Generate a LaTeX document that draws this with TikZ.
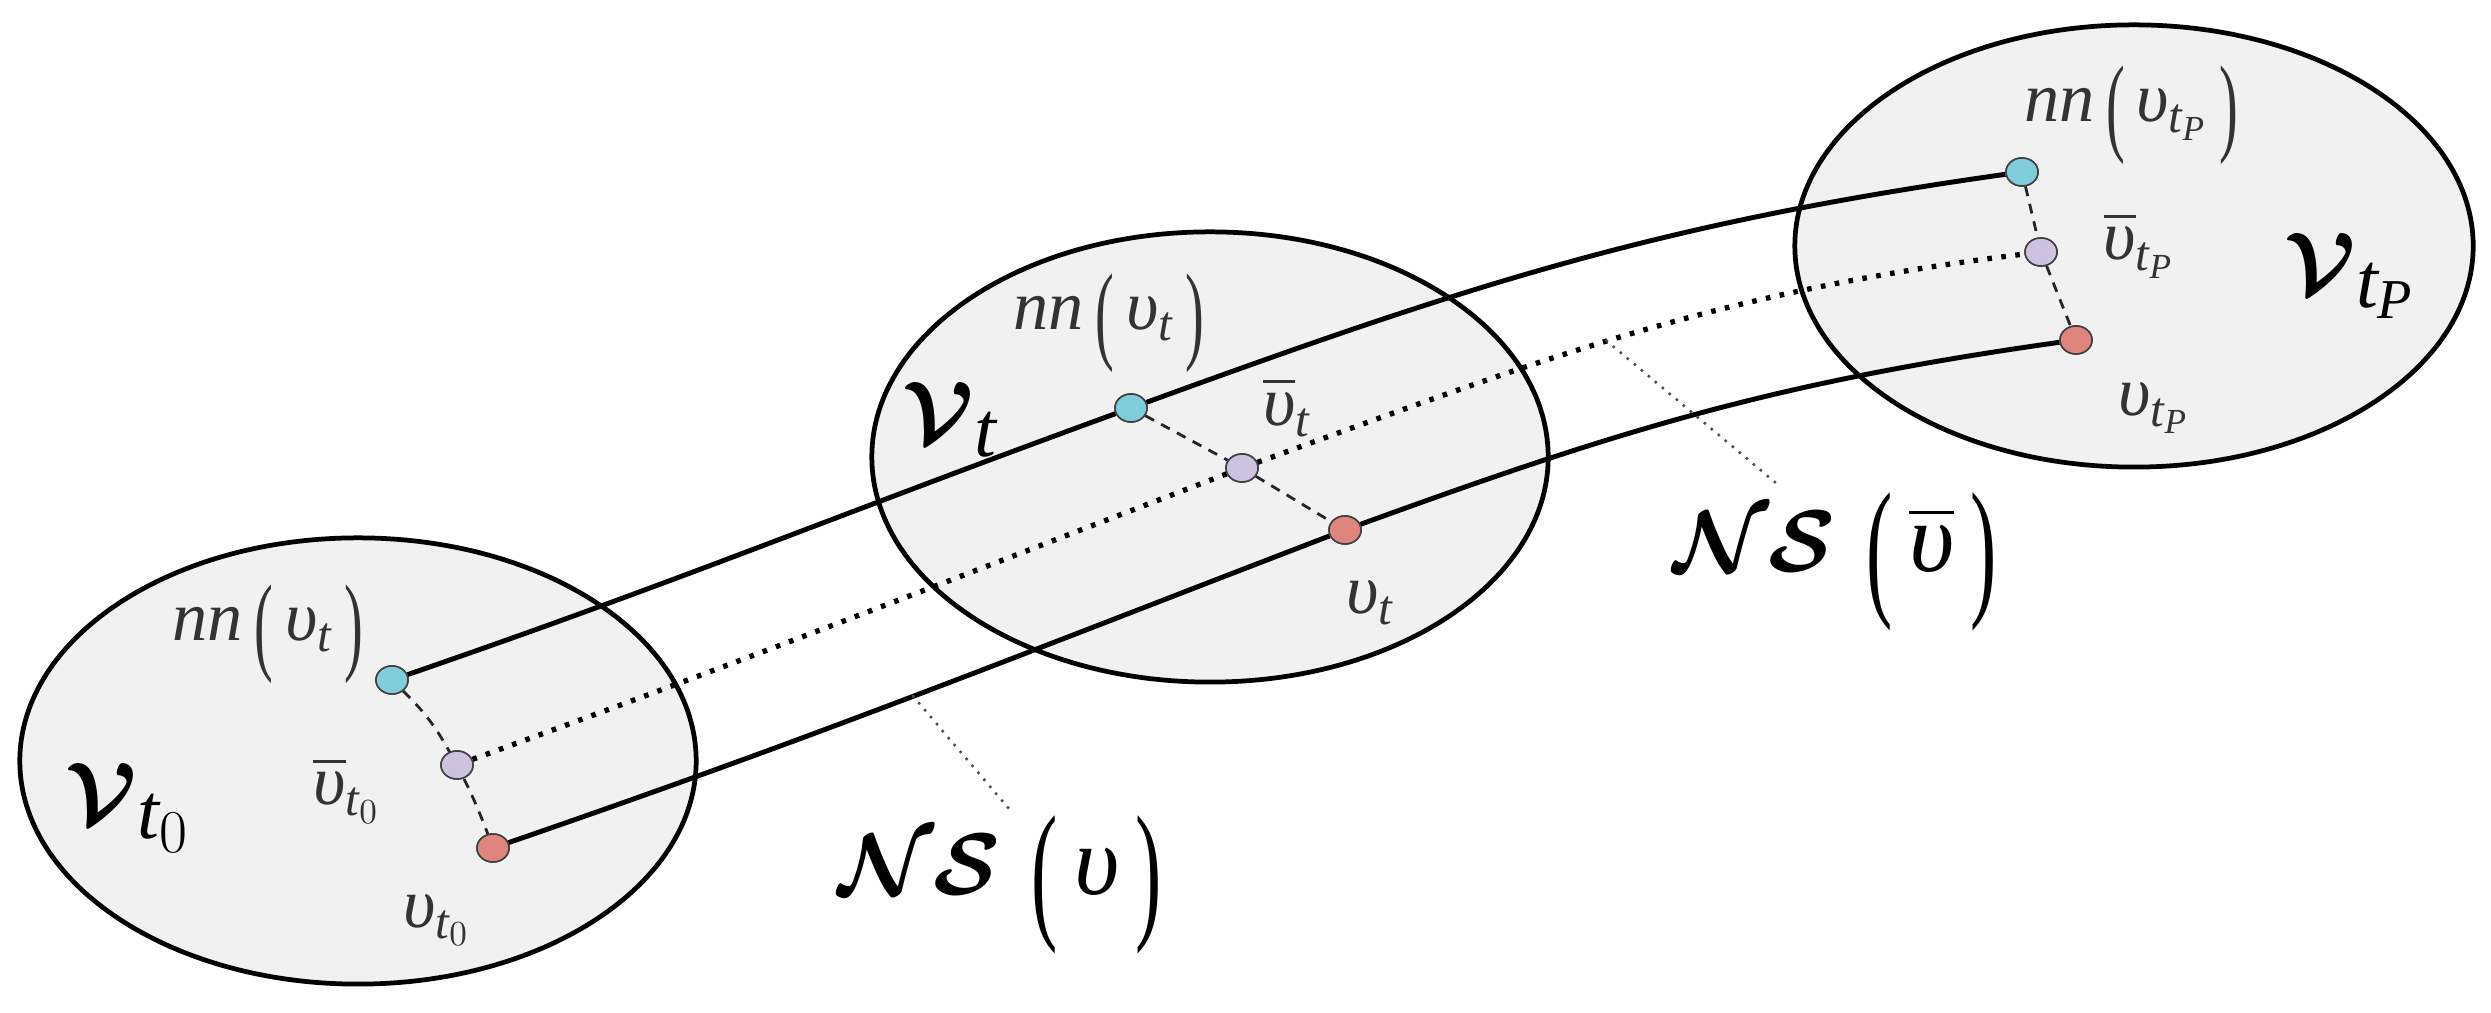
\documentclass[tikz,border=0pt]{standalone}
\usepackage{amsmath}
\usepackage{graphicx}
\usepackage{fontspec}
\setmainfont{Liberation Serif}
\usetikzlibrary{shapes.geometric}
\newcommand{\ups}{\mbox{\itshape υ}}
\newcommand{\upsb}{\overline{\mbox{\itshape υ}}}
\newcommand{\tlp}{\mbox{\,\raisebox{-0.28em}{\scalebox{0.8}[1.55]{(}}\,}}
\newcommand{\trp}{\mbox{\,\raisebox{-0.28em}{\scalebox{0.8}[1.55]{)}}}}
\definecolor{regionfill}{HTML}{F1F1F1}
\definecolor{dotcyan}{HTML}{7FCCDA}
\definecolor{dotpurple}{HTML}{CDC2DF}
\definecolor{dotred}{HTML}{E0857E}
\begin{document}
\begin{tikzpicture}[x=0.01cm,y=0.01cm,
  region/.style={ellipse,draw=black,fill=regionfill,line width=1.35pt,inner sep=0pt},
  pt/.style={ellipse,draw=black!75,line width=0.45pt,minimum width=0.32cm,minimum height=0.28cm,inner sep=0pt},
  solidline/.style={line width=1.4pt,black},
  dotline/.style={line width=1.5pt,black,dash pattern=on 1.3pt off 2.7pt},
  dashline/.style={line width=0.8pt,black!85,dash pattern=on 2.8pt off 2.3pt},
  pointer/.style={line width=1pt,black!70,line cap=round,dash pattern=on 0pt off 2.6pt},
  lbl/.style={font=\fontsize{20}{24}\selectfont,text=black!80,inner sep=0pt},
  biglbl/.style={font=\fontsize{32}{36}\selectfont,inner sep=0pt},
  nslbl/.style={font=\fontsize{28}{32}\selectfont,inner sep=0pt}]
\path[use as bounding box] (0,0) rectangle (2491,1013);

% regions
\node[region,minimum width=6.76cm,minimum height=4.46cm] (E0) at (358,252) {};
\node[region,minimum width=6.76cm,minimum height=4.50cm] (E1) at (1210,556) {};
\node[region,minimum width=6.78cm,minimum height=4.42cm] (E2) at (2134,767) {};

% points
\node[pt] (c0) at (392,333) {};
\node[pt] (p0) at (457,248) {};
\node[pt] (r0) at (493,165) {};
\node[pt] (c1) at (1131,605) {};
\node[pt] (p1) at (1242,545) {};
\node[pt] (r1) at (1345,483) {};
\node[pt] (c2) at (2022,841) {};
\node[pt] (p2) at (2041,761) {};
\node[pt] (r2) at (2076,673) {};

% trajectories
\draw[solidline] (c0) to[out=19,in=200] (c1) to[out=20,in=188] (c2);
\draw[dotline] (p0) to[out=20,in=201] (p1) to[out=20,in=187] node[coordinate,pos=0.46] (q2) {} (p2);
\draw[solidline] (r0) to[out=19,in=201] node[coordinate,pos=0.49] (q1) {} (r1) to[out=20,in=188] (r2);

% dashed links
\draw[dashline] (c0) to[bend left=8] (p0) to[bend left=4] (r0);
\draw[dashline] (c1) -- (p1) -- (r1);
\draw[dashline] (c2) -- (p2) -- (r2);

% points on top
\foreach \n/\c in {c0/dotcyan,p0/dotpurple,r0/dotred,c1/dotcyan,p1/dotpurple,r1/dotred,c2/dotcyan,p2/dotpurple,r2/dotred}
  \node[pt,fill=\c] at (\n) {};

% pointers
\coordinate (pe1) at (1010,203);
\coordinate (pe2) at (1776,530);
\draw[pointer] (q1) -- (pe1);
\draw[pointer] (q2) -- (pe2);

% labels
\node[lbl] (nn0) at (268,379) {\textit{nn}$\tlp\ups_{\mathit{t}}\trp$};
\node[lbl] (ub0) at (347,223) {$\upsb_{\mathit{t}_0}$};
\node[lbl] (u0) at (437,93) {$\ups_{\mathit{t}_0}$};
\node[biglbl] (V0) at (128,205) {$\boldsymbol{\mathcal{V}}_{\mathit{t}_0}$};

\node[lbl] (nn1) at (1109,690) {\textit{nn}$\tlp\ups_{\mathit{t}}\trp$};
\node[biglbl] (V1) at (950,593) {$\boldsymbol{\mathcal{V}}_{\mathit{t}}$};
\node[lbl] (ub1) at (1287,606) {$\upsb_{\mathit{t}}$};
\node[lbl] (u1) at (1370,410) {$\ups_{\mathit{t}}$};

\node[lbl] (nn2) at (2131,898) {\textit{nn}$\tlp\ups_{\mathit{t}_{\mathit{P}}}\trp$};
\node[lbl] (ub2) at (2139,768) {$\upsb_{\mathit{t}_{\mathit{P}}}$};
\node[lbl] (u2) at (2154,605) {$\ups_{\mathit{t}_{\mathit{P}}}$};
\node[biglbl] (V2) at (2350,737) {$\boldsymbol{\mathcal{V}}_{\mathit{t}_{\mathit{P}}}$};

\node[nslbl] (ns1) at (1000,128) {$\boldsymbol{\mathcal{N}\mathcal{S}}\,\tlp\ups\trp$};
\node[nslbl] (ns2) at (1835,451) {$\boldsymbol{\mathcal{N}\mathcal{S}}\,\tlp\upsb\trp$};
\end{tikzpicture}
\end{document}
